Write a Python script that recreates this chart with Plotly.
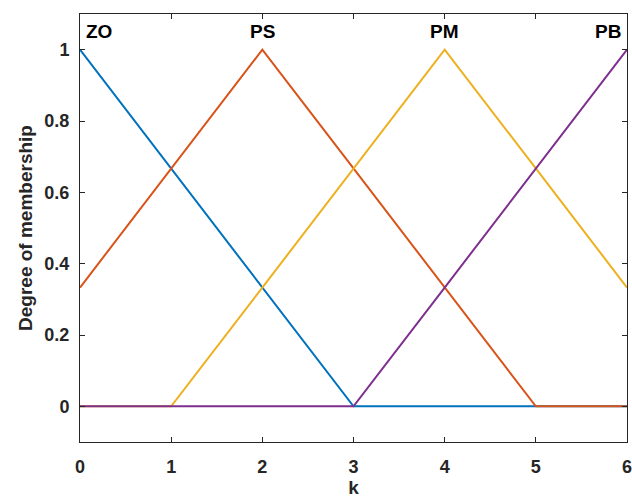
import plotly.graph_objects as go

x_vals = [0, 1, 2, 3, 4, 5, 6]
zo = [1, 0.667, 0.333, 0, 0, 0, 0]
ps = [0.333, 0.667, 1, 0.667, 0.333, 0, 0]
pm = [0, 0, 0.333, 0.667, 1, 0.667, 0.333]
pb = [0, 0, 0, 0, 0.333, 0.667, 1]
names = ["ZO", "PS", "PM", "PB"]
label_x = [0, 2, 4, 6]
label_y = [1.05, 1.05, 1.05, 1.05]
colors = ["#0072BD", "#D95319", "#EDB120", "#7E2F8E"]

FONT = "Liberation Sans"

fig = go.Figure()
for ys, nm, c in zip([zo, ps, pm, pb], names, colors):
    fig.add_trace(go.Scatter(x=x_vals, y=ys, mode="lines", name=nm,
                             line=dict(color=c, width=2), showlegend=False))

anchors = ["left", "center", "center", "right"]
xshift = [4, 0, 0, -4]
for lx, ly, nm, a, s in zip(label_x, label_y, names, anchors, xshift):
    fig.add_annotation(x=lx, y=ly, text=nm, showarrow=False, xanchor=a, xshift=s,
                       yanchor="middle",
                       font=dict(family=FONT, size=19, color="#000000", weight="bold"))

axis_common = dict(showline=True, linecolor="#262626", linewidth=1, mirror="ticks",
                   ticks="inside", ticklen=5, tickcolor="#262626", showgrid=False, zeroline=False,
                   ticklabeloverflow="allow",
                   tickfont=dict(family=FONT, size=18, color="#262626", weight="bold"))

fig.update_xaxes(range=[0, 6], tickvals=[0, 1, 2, 3, 4, 5, 6], ticklabelstandoff=8, **axis_common,
                 title=dict(text="k", standoff=2,
                            font=dict(family=FONT, size=19, color="#262626", weight="bold")))
fig.update_yaxes(range=[-0.1, 1.1], tickvals=[0, 0.2, 0.4, 0.6, 0.8, 1],
                 ticktext=["0", "0.2", "0.4", "0.6", "0.8", "1"], ticklabelstandoff=6, **axis_common,
                 title=dict(text="Degree of membership", standoff=6,
                            font=dict(family=FONT, size=19, color="#262626", weight="bold")))

fig.update_layout(width=632, height=501, margin=dict(l=80, r=5, t=14, b=59, autoexpand=False),
                  plot_bgcolor="white", paper_bgcolor="white")
fig.write_html("out.html", config={"displayModeBar": False},
               post_script="document.body.style.margin='0';")
